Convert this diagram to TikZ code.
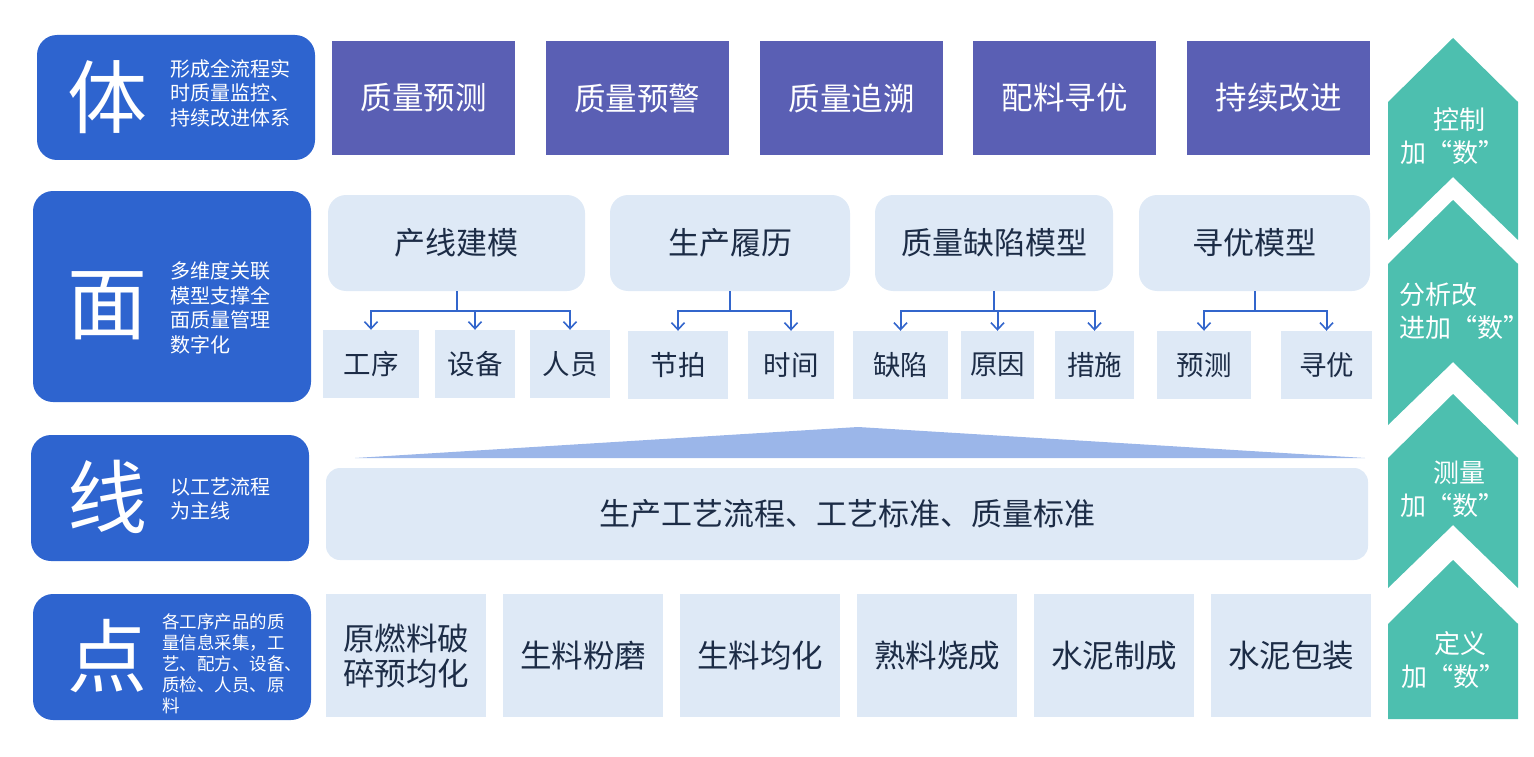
\documentclass[tikz,border=0pt]{standalone}
\usepackage{fontspec}
\setmainfont{Noto Sans CJK SC}
\usetikzlibrary{arrows.meta}
\definecolor{leftblue}{RGB}{46,100,207}
\definecolor{topviolet}{RGB}{90,95,180}
\definecolor{paleblue}{RGB}{222,233,246}
\definecolor{darktext}{RGB}{28,44,70}
\definecolor{linkblue}{RGB}{51,102,204}
\definecolor{triblue}{RGB}{155,182,233}
\definecolor{tealup}{RGB}{77,191,175}

\begin{document}
\begin{tikzpicture}[x=1pt, y=-1pt,
  levelbox/.style={fill=leftblue, rounded corners=20pt, inner sep=0pt, minimum width=278pt},
  bigchar/.style={text=white, font=\fontsize{80}{80}\selectfont, inner sep=0pt},
  levelnote/.style={text=white, anchor=west, align=left, inner sep=0pt, font=\fontsize{20}{24.5}\selectfont},
  goalbox/.style={fill=topviolet, text=white, inner sep=0pt, minimum width=183pt, minimum height=114pt, font=\fontsize{31.5}{31.5}\selectfont},
  modelbox/.style={fill=paleblue, text=darktext, rounded corners=18pt, inner sep=0pt, minimum height=96pt, font=\fontsize{31}{31}\selectfont},
  itembox/.style={fill=paleblue, text=darktext, inner sep=0pt, minimum height=68pt, font=\fontsize{27.5}{27.5}\selectfont},
  stagebox/.style={fill=paleblue, text=darktext, inner sep=0pt, minimum width=160pt, minimum height=123pt, align=center, font=\fontsize{31.5}{35}\selectfont},
  link/.style={draw=linkblue, line width=2pt},
  linkarrow/.style={link, -{Straight Barb[length=7pt, width=13pt, line width=1.6pt]}},
  uptext/.style={text=white, inner sep=0pt, font=\fontsize{26}{33}\selectfont}]
  \useasboundingbox (0,0) rectangle (1534,757);

  % 左侧：体 面 线 点
  \node[levelbox, minimum height=125pt] (ti) at (176,97.5) {};
  \node[bigchar] (tichar) at (107,97) {体};
  \node[levelnote] (tinote) at (170,93) {形成全流程实\\时质量监控、\\持续改进体系};

  \node[levelbox, minimum height=211pt] (mian) at (172,296.5) {};
  \node[bigchar] (mianchar) at (107,306) {面};
  \node[levelnote] (miannote) at (170,308) {多维度关联\\模型支撑全\\面质量管理\\数字化};

  \node[levelbox, minimum height=126pt] (xian) at (170,498) {};
  \node[bigchar] (xianchar) at (107,497) {线};
  \node[levelnote] (xiannote) at (170,499) {以工艺流程\\为主线};

  \node[levelbox, minimum height=126pt] (dian) at (172,657) {};
  \node[bigchar] (dianchar) at (107,656) {点};
  \node[levelnote, font=\fontsize{17.5}{21}\selectfont] (diannote) at (162,664) {各工序产品的质\\量信息采集，工\\艺、配方、设备、\\质检、人员、原\\料};

  % 体：目标
  \node[goalbox] (g1) at (423.5,98) {质量预测};
  \node[goalbox] (g2) at (637,98) {质量预警};
  \node[goalbox] (g3) at (851.5,98) {质量追溯};
  \node[goalbox] (g4) at (1064.5,98) {配料寻优};
  \node[goalbox] (g5) at (1278.5,98) {持续改进};

  % 面：模型及子项
  \node[modelbox, minimum width=257pt] (m1) at (456.5,243) {产线建模};
  \node[modelbox, minimum width=240pt] (m2) at (730,243) {生产履历};
  \node[modelbox, minimum width=238pt] (m3) at (994,243) {质量缺陷模型};
  \node[modelbox, minimum width=231pt] (m4) at (1254.5,243) {寻优模型};

  \node[itembox, minimum width=96pt] (c11) at (371,364) {工序};
  \node[itembox, minimum width=80pt] (c12) at (475,364) {设备};
  \node[itembox, minimum width=80pt] (c13) at (570,364) {人员};
  \node[itembox, minimum width=100pt] (c21) at (678,365) {节拍};
  \node[itembox, minimum width=86pt] (c22) at (791,365) {时间};
  \node[itembox, minimum width=95pt] (c31) at (900.5,365) {缺陷};
  \node[itembox, minimum width=73pt] (c32) at (997.5,365) {原因};
  \node[itembox, minimum width=79pt] (c33) at (1094.5,365) {措施};
  \node[itembox, minimum width=94pt] (c41) at (1204,365) {预测};
  \node[itembox, minimum width=91pt] (c42) at (1326.5,365) {寻优};

  \coordinate (j1) at (456.5,311);
  \coordinate (j2) at (730,311);
  \coordinate (j3) at (994,311);
  \coordinate (j4) at (1254.5,311);
  \draw[link] (m1.south) -- (j1);
  \draw[link] (m2.south) -- (j2);
  \draw[link] (m3.south) -- (j3);
  \draw[link] (m4.south) -- (j4);
  \foreach \c in {c11,c12,c13} \draw[linkarrow] (j1) -| (\c.north);
  \foreach \c in {c21,c22} \draw[linkarrow] (j2) -| (\c.north);
  \foreach \c in {c31,c32,c33} \draw[linkarrow] (j3) -| (\c.north);
  \foreach \c in {c41,c42} \draw[linkarrow] (j4) -| (\c.north);

  % 线
  \fill[triblue] (355,458) -- (858,427) -- (1365,458) -- cycle;
  \node[modelbox, rounded corners=14pt, minimum width=1042pt, minimum height=92pt] (line) at (847,514) {生产工艺流程、工艺标准、质量标准};

  % 点：工序
  \node[stagebox] (s1) at (406,655.5) {原燃料破\\碎预均化};
  \node[stagebox] (s2) at (583,655.5) {生料粉磨};
  \node[stagebox] (s3) at (760,655.5) {生料均化};
  \node[stagebox] (s4) at (937,655.5) {熟料烧成};
  \node[stagebox] (s5) at (1114,655.5) {水泥制成};
  \node[stagebox] (s6) at (1291,655.5) {水泥包装};

  % 右侧箭头
  \foreach \a/\b in {38/240, 200/425, 394/588}
    \fill[tealup] (1388,{\a+64}) -- (1453,\a) -- (1518,{\a+64}) -- (1518,\b) -- (1453,{\b-63}) -- (1388,\b) -- cycle;
  \fill[tealup] (1388,624) -- (1453,560) -- (1518,624) -- (1518,719) -- (1388,719) -- cycle;
  \node[uptext, align=center] (u1) at (1452,136) {\hspace{0.6em}控制\\加“数”};
  \node[uptext, align=left] (u2) at (1464,311) {分析改\\进加“数”};
  \node[uptext, align=center] (u3) at (1452,489) {\hspace{0.6em}测量\\加“数”};
  \node[uptext, align=center] (u4) at (1453,660) {\hspace{0.6em}定义\\加“数”};
\end{tikzpicture}
\end{document}
